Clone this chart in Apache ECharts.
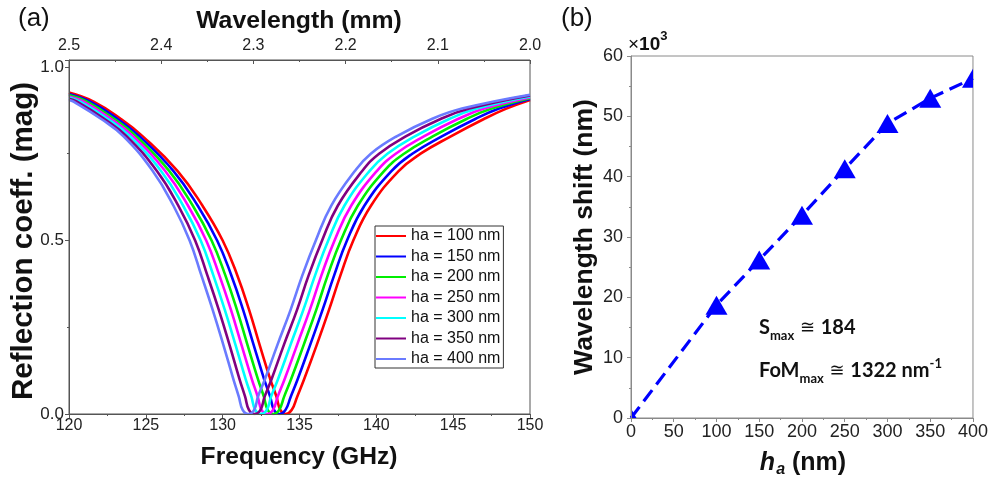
<!DOCTYPE html>
<html>
<head>
<meta charset="utf-8">
<script src="https://cdn.jsdelivr.net/npm/echarts@6/dist/echarts.min.js"></script>
<style>
  html, body { margin: 0; padding: 0; background: #fff; }
  #chart { width: 991px; height: 481px; }
</style>
</head>
<body>
<div id="chart"></div>
<script>
// ---- Panel (a): reflection dips, one per absorber thickness ----
const seriesNames = ['ha = 100 nm', 'ha = 150 nm', 'ha = 200 nm', 'ha = 250 nm', 'ha = 300 nm', 'ha = 350 nm', 'ha = 400 nm'];
const seriesColors = ['#ff0000', '#0000ff', '#00ee00', '#ff00ff', '#00ffff', '#800080', '#6a7bff'];

// reflection levels at which each branch of a dip is sampled
const levelsLeft  = [0.9, 0.85, 0.8, 0.7, 0.6, 0.5, 0.4, 0.3, 0.2, 0.1, 0.05, 0.012, 0];
const levelsRight = [0.012, 0.05, 0.1, 0.2, 0.3, 0.4, 0.5, 0.6, 0.7, 0.75, 0.8, 0.85, 0.88];

// reflection at the band edges (120 GHz and 150 GHz)
const reflAt120 = [0.926, 0.922, 0.919, 0.915, 0.912, 0.908, 0.905];
const reflAt150 = [0.905, 0.908, 0.910, 0.912, 0.915, 0.918, 0.920];

// frequency (GHz) of the falling branch at each level of levelsLeft
const leftGHz100 = [121.6, 123.38, 124.8, 127.07, 128.69, 130.0, 130.95, 131.72, 132.4, 133.1, 133.5, 133.75, 134.1];
const leftGHz150 = [121.38, 123.17, 124.59, 126.8, 128.38, 129.64, 130.56, 131.33, 132.01, 132.7, 133.09, 133.34, 133.7];
const leftGHz200 = [121.17, 122.95, 124.38, 126.53, 128.06, 129.28, 130.17, 130.93, 131.61, 132.3, 132.68, 132.93, 133.29];
const leftGHz250 = [120.95, 122.74, 124.18, 126.26, 127.75, 128.93, 129.78, 130.54, 131.22, 131.9, 132.28, 132.53, 132.89];
const leftGHz300 = [120.73, 122.53, 123.97, 125.99, 127.43, 128.57, 129.39, 130.14, 130.83, 131.5, 131.87, 132.12, 132.48];
const leftGHz350 = [120.52, 122.31, 123.76, 125.72, 127.12, 128.21, 129.0, 129.75, 130.44, 131.1, 131.46, 131.71, 132.07];
const leftGHz400 = [120.3, 122.1, 123.55, 125.45, 126.8, 127.85, 128.61, 129.35, 130.04, 130.7, 131.05, 131.3, 131.67];

// frequency (GHz) of the rising branch at each level of levelsRight
const rightGHz100 = [134.5, 134.85, 135.3, 136.13, 136.92, 137.67, 138.5, 139.65, 141.45, 142.88, 144.85, 147.0, 148.46];
const rightGHz150 = [134.09, 134.43, 134.88, 135.7, 136.5, 137.26, 138.09, 139.22, 140.98, 142.34, 144.26, 146.44, 147.98];
const rightGHz200 = [133.68, 134.0, 134.45, 135.28, 136.09, 136.84, 137.69, 138.79, 140.5, 141.8, 143.67, 145.87, 147.5];
const rightGHz250 = [133.28, 133.58, 134.03, 134.85, 135.67, 136.43, 137.28, 138.36, 140.03, 141.26, 143.09, 145.31, 147.02];
const rightGHz300 = [132.87, 133.15, 133.6, 134.42, 135.25, 136.02, 136.87, 137.92, 139.55, 140.72, 142.5, 144.74, 146.53];
const rightGHz350 = [132.46, 132.73, 133.18, 133.99, 134.84, 135.6, 136.47, 137.49, 139.08, 140.18, 141.91, 144.18, 146.05];
const rightGHz400 = [132.05, 132.3, 132.75, 133.57, 134.42, 135.19, 136.06, 137.06, 138.6, 139.64, 141.32, 143.61, 145.57];

const leftBranches  = [leftGHz100, leftGHz150, leftGHz200, leftGHz250, leftGHz300, leftGHz350, leftGHz400];
const rightBranches = [rightGHz100, rightGHz150, rightGHz200, rightGHz250, rightGHz300, rightGHz350, rightGHz400];

// ---- Panel (b): wavelength shift versus thickness ----
const haNm = [0, 100, 150, 200, 250, 300, 350, 400];
const shiftThousandsNm = [0, 18.7, 26.2, 33.6, 41.3, 48.8, 53.0, 56.3];

// tick settings
const freqTicks = { min: 120, max: 150, interval: 5 };
const wavelengthTicks = { min: 2.0, max: 2.5, interval: 0.1 };
const reflTicks = { min: 0, max: 1.02, interval: 0.5 };
const haTicks = { min: 0, max: 400, interval: 50 };
const shiftTicks = { min: 0, max: 60, interval: 10 };

const SANS = '"Liberation Sans", Arial, sans-serif';

function dipData(i) {
  const pts = [[120, reflAt120[i]]];
  leftBranches[i].forEach((f, j) => pts.push([f, levelsLeft[j]]));
  rightBranches[i].forEach((f, j) => pts.push([f, levelsRight[j]]));
  pts.push([150, reflAt150[i]]);
  return pts;
}

const dipSeries = seriesNames.map((name, i) => ({
  name: name,
  type: 'line',
  xAxisIndex: 0,
  yAxisIndex: 0,
  data: dipData(i),
  symbol: 'none',
  smooth: 0.45,
  clip: true,
  z: 2,
  lineStyle: { color: seriesColors[i], width: 2.6 },
  itemStyle: { color: seriesColors[i] }
}));

const axisGrayA = '#555';
const axisGrayB = '#8a8a8a';

const chart = echarts.init(document.getElementById('chart'), null, { renderer: 'canvas' });

chart.setOption({
  animation: false,
  backgroundColor: '#ffffff',
  grid: [
    { left: 69, top: 60, width: 461, height: 354, show: true, borderColor: axisGrayA, borderWidth: 1, backgroundColor: 'transparent' },
    { left: 631, top: 56, width: 343, height: 362, show: true, borderColor: axisGrayB, borderWidth: 1, backgroundColor: 'transparent' }
  ],
  legend: {
    data: seriesNames,
    orient: 'vertical',
    left: 375,
    top: 226,
    itemWidth: 30,
    itemHeight: 14,
    itemGap: 4.5,
    padding: [2, 3, 1, 0],
    borderColor: '#333',
    borderWidth: 1,
    backgroundColor: '#fff',
    selectedMode: false,
    itemStyle: { opacity: 0 },
    textStyle: { fontFamily: SANS, fontSize: 16, color: '#111' }
  },
  xAxis: [
    {
      type: 'value', gridIndex: 0, position: 'bottom',
      min: freqTicks.min, max: freqTicks.max, interval: freqTicks.interval,
      axisLine: { lineStyle: { color: axisGrayA, width: 1 } },
      axisTick: { length: 4, lineStyle: { color: axisGrayA } },
      minorTick: { show: true, splitNumber: 2, length: 2, lineStyle: { color: axisGrayA } },
      splitLine: { show: false },
      axisLabel: { margin: 4, fontFamily: SANS, fontSize: 16, color: '#222' },
      z: 5
    },
    {
      type: 'value', gridIndex: 0, position: 'top', inverse: true,
      min: wavelengthTicks.min, max: wavelengthTicks.max, interval: wavelengthTicks.interval,
      axisLine: { lineStyle: { color: axisGrayA, width: 1 } },
      axisTick: { inside: true, length: 4, lineStyle: { color: axisGrayA } },
      minorTick: { show: true, splitNumber: 2, length: 2, lineStyle: { color: axisGrayA } },
      splitLine: { show: false },
      axisLabel: { margin: 6, fontFamily: SANS, fontSize: 16, color: '#222', formatter: v => v.toFixed(1) },
      z: 5
    },
    {
      type: 'value', gridIndex: 1, position: 'bottom',
      min: haTicks.min, max: haTicks.max, interval: haTicks.interval,
      axisLine: { lineStyle: { color: axisGrayB, width: 1 } },
      axisTick: { length: 4, lineStyle: { color: axisGrayB } },
      minorTick: { show: true, splitNumber: 2, length: 2, lineStyle: { color: axisGrayB } },
      splitLine: { show: false },
      axisLabel: { margin: 5, fontFamily: SANS, fontSize: 18, color: '#222' },
      z: 5
    }
  ],
  yAxis: [
    {
      type: 'value', gridIndex: 0,
      min: reflTicks.min, max: reflTicks.max, interval: reflTicks.interval,
      axisLine: { show: true, lineStyle: { color: axisGrayA, width: 1 } },
      axisTick: { show: true, length: 4, lineStyle: { color: axisGrayA } },
      minorTick: { show: true, splitNumber: 2, length: 2, lineStyle: { color: axisGrayA } },
      splitLine: { show: false },
      axisLabel: { margin: 5, fontFamily: SANS, fontSize: 17, color: '#222', showMaxLabel: false, formatter: v => v.toFixed(1) },
      z: 5
    },
    {
      type: 'value', gridIndex: 1,
      min: shiftTicks.min, max: shiftTicks.max, interval: shiftTicks.interval,
      axisLine: { show: true, lineStyle: { color: axisGrayB, width: 1 } },
      axisTick: { show: true, length: 4, lineStyle: { color: axisGrayB } },
      minorTick: { show: true, splitNumber: 2, length: 2, lineStyle: { color: axisGrayB } },
      splitLine: { show: false },
      axisLabel: { margin: 8, fontFamily: SANS, fontSize: 18, color: '#222' },
      z: 5
    }
  ],
  series: dipSeries.concat([
    {
      name: 'shift-line',
      type: 'line',
      xAxisIndex: 2,
      yAxisIndex: 1,
      data: haNm.map((h, i) => [h, shiftThousandsNm[i]]),
      symbol: 'none',
      clip: true,
      z: 2,
      lineStyle: { color: '#0000ff', width: 3.2, type: [14, 7] }
    },
    {
      name: 'shift-markers',
      type: 'custom',
      xAxisIndex: 2,
      yAxisIndex: 1,
      clip: true,
      z: 3,
      data: haNm.map((h, i) => [h, shiftThousandsNm[i]]),
      renderItem: function (params, api) {
        const p = api.coord([api.value(0), api.value(1)]);
        const hw = 11, hh = 9.5;
        return {
          type: 'polygon',
          shape: { points: [[p[0], p[1] - hh], [p[0] + hw, p[1] + hh], [p[0] - hw, p[1] + hh]] },
          style: { fill: '#0000ff' }
        };
      }
    }
  ]),
  graphic: [
    { type: 'text', left: 18, top: 6, style: { text: '(a)', fontFamily: SANS, fontSize: 26, fill: '#111' } },
    { type: 'text', left: 561, top: 6, style: { text: '(b)', fontFamily: SANS, fontSize: 26, fill: '#111' } },
    { type: 'text', x: 299, y: 21, style: { text: 'Wavelength (mm)', fontFamily: SANS, fontWeight: 'bold', fontSize: 24.8, fill: '#111', align: 'center', verticalAlign: 'middle' } },
    { type: 'text', x: 299, y: 457, style: { text: 'Frequency (GHz)', fontFamily: SANS, fontWeight: 'bold', fontSize: 24.6, fill: '#111', align: 'center', verticalAlign: 'middle' } },
    { type: 'text', x: 24, y: 241, rotation: Math.PI / 2, style: { text: 'Reflection coeff. (mag)', fontFamily: SANS, fontWeight: 'bold', fontSize: 29.5, fill: '#111', align: 'center', verticalAlign: 'middle' } },
    { type: 'text', x: 585, y: 237, rotation: Math.PI / 2, style: { text: 'Wavelength shift (nm)', fontFamily: SANS, fontWeight: 'bold', fontSize: 26.5, fill: '#111', align: 'center', verticalAlign: 'middle' } },
    {
      type: 'text', x: 803, y: 463,
      style: {
        text: '{h|h}{s|a}{n| (nm)}', align: 'center', verticalAlign: 'middle', fill: '#111',
        rich: {
          h: { fontFamily: SANS, fontWeight: 'bold', fontStyle: 'italic', fontSize: 25, lineHeight: 30, verticalAlign: 'middle' },
          s: { fontFamily: SANS, fontWeight: 'bold', fontStyle: 'italic', fontSize: 16, lineHeight: 30, verticalAlign: 'bottom', padding: [0, 0, 0, 1] },
          n: { fontFamily: SANS, fontWeight: 'bold', fontSize: 25, lineHeight: 30, verticalAlign: 'middle' }
        }
      }
    },
    {
      type: 'text', left: 628, top: 30,
      style: {
        text: '{x|×}{b|10}{p|3}', fill: '#111',
        rich: {
          x: { fontFamily: SANS, fontSize: 19, lineHeight: 24, verticalAlign: 'bottom' },
          b: { fontFamily: SANS, fontWeight: 'bold', fontSize: 19, lineHeight: 24, verticalAlign: 'bottom' },
          p: { fontFamily: SANS, fontWeight: 'bold', fontSize: 13, lineHeight: 24, verticalAlign: 'top' }
        }
      }
    },
    {
      type: 'text', left: 759, top: 318,
      style: {
        text: '{m|S}{s|max}{e| ≅ }{m|184}', fill: '#111',
        rich: {
          m: { fontFamily: 'Lato, sans-serif', fontWeight: 'bold', fontSize: 20, lineHeight: 28, verticalAlign: 'middle' },
          s: { fontFamily: 'Lato, sans-serif', fontWeight: 'bold', fontSize: 13, lineHeight: 28, verticalAlign: 'bottom' },
          e: { fontFamily: 'DejaVu Sans, sans-serif', fontSize: 18, lineHeight: 28, verticalAlign: 'middle' }
        }
      }
    },
    {
      type: 'text', left: 759, top: 357,
      style: {
        text: '{m|FoM}{s|max}{e| ≅ }{m|1322 nm}{p|-1}', fill: '#111',
        rich: {
          m: { fontFamily: 'Lato, sans-serif', fontWeight: 'bold', fontSize: 20, lineHeight: 28, verticalAlign: 'middle' },
          s: { fontFamily: 'Lato, sans-serif', fontWeight: 'bold', fontSize: 13, lineHeight: 28, verticalAlign: 'bottom' },
          e: { fontFamily: 'DejaVu Sans, sans-serif', fontSize: 18, lineHeight: 28, verticalAlign: 'middle' },
          p: { fontFamily: 'Lato, sans-serif', fontWeight: 'bold', fontSize: 13, lineHeight: 28, verticalAlign: 'top' }
        }
      }
    }
  ]
});
</script>
</body>
</html>
